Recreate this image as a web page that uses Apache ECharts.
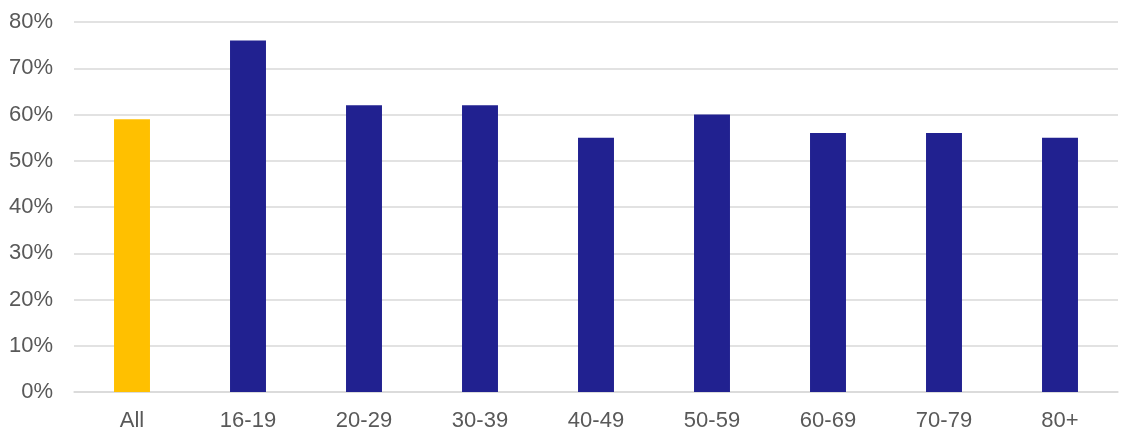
<!DOCTYPE html>
<html>
<head>
<meta charset="utf-8">
<script src="https://cdn.jsdelivr.net/npm/echarts@6/dist/echarts.min.js"></script>
<style>html,body{margin:0;padding:0;background:#fff;}#c{width:1134px;height:440px;}</style>
</head>
<body>
<div id="c"></div>
<script>
var categories = ['All', '16-19', '20-29', '30-39', '40-49', '50-59', '60-69', '70-79', '80+'];
var values = [59, 76, 62, 62, 55, 60, 56, 56, 55];
var barColors = ['#FFC000', '#212190', '#212190', '#212190', '#212190', '#212190', '#212190', '#212190', '#212190'];
var yTicks = [0, 10, 20, 30, 40, 50, 60, 70, 80];

var chart = echarts.init(document.getElementById('c'), null, {renderer: 'canvas'});
chart.setOption({
  animation: false,
  grid: {left: 74, right: 16, top: 22, bottom: 48, containLabel: false},
  xAxis: {
    type: 'category',
    data: categories,
    axisLine: {show: true, lineStyle: {color: '#d9d9d9', width: 1.5}},
    axisTick: {show: false},
    axisLabel: {color: '#595959', fontSize: 22, fontFamily: 'Liberation Sans, Arial, sans-serif', margin: 18}
  },
  yAxis: {
    type: 'value',
    min: yTicks[0],
    max: yTicks[yTicks.length - 1],
    interval: 10,
    axisLine: {show: false},
    axisTick: {show: false},
    splitLine: {lineStyle: {color: '#d9d9d9', width: 1.5}},
    axisLabel: {color: '#595959', fontSize: 22, fontFamily: 'Liberation Sans, Arial, sans-serif', margin: 21, formatter: '{value}%'}
  },
  series: [{
    type: 'bar',
    barWidth: '31%',
    data: values.map(function (v, i) { return {value: v, itemStyle: {color: barColors[i]}}; })
  }]
});
</script>
</body>
</html>
